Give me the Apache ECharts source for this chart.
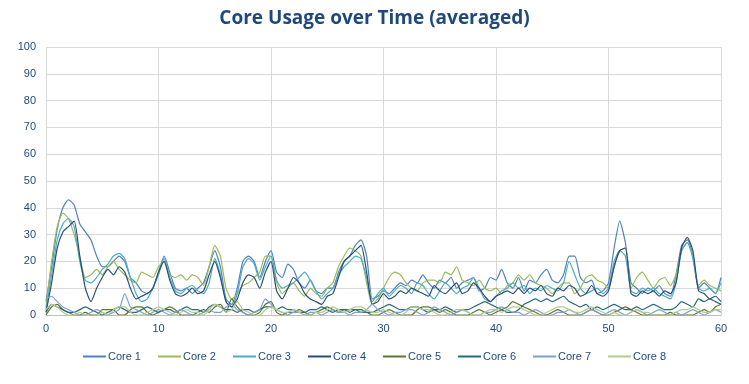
<!DOCTYPE html>
<html><head><meta charset="utf-8">
<script src="https://cdn.jsdelivr.net/npm/echarts@6/dist/echarts.min.js"></script>
<style>html,body{margin:0;padding:0;background:#fff}#c{width:749px;height:384px}</style>
</head><body><div id="c"></div>
<script>
var seriesNames = ['Core 1','Core 2','Core 3','Core 4','Core 5','Core 6','Core 7','Core 8'];
var xTicks = [0,10,20,30,40,50,60];
var yTicks = [0,10,20,30,40,50,60,70,80,90,100];
var step = 0.5;
var core1 = [5,18,32,40,43,41,34,31,28,22,18,18,20,22,20,14,12,9,8,10,16,22,16,10,9,10,8,10,12,18,24,18,6,4,10,20,22,20,14,20,24,16,14,19,17,12,10,13,9,8,10,10,16,20,22,26,28,22,6,7,9,8,10,12,11,13,12,15,12,10,13,12,14,10,12,13,14,9,10,14,13,17,12,10,14,9,13,12,15,17,13,12,15,22,22,14,12,13,8,9,12,25,35,27,12,10,8,10,9,11,8,7,15,26,28,22,10,12,10,8,14];
var core2 = [3,20,33,38,36,30,22,14,15,17,15,18,20,17,15,13,12,16,15,14,18,20,15,14,15,13,15,14,11,18,26,22,10,6,8,11,12,14,16,22,22,12,8,10,12,9,7,10,8,7,10,12,18,22,25,24,22,12,4,6,10,14,16,15,12,10,9,12,13,13,12,16,15,18,13,12,11,13,10,9,10,8,11,12,15,13,15,12,11,10,8,10,12,12,8,10,14,15,13,12,10,18,24,25,10,14,16,13,10,13,14,11,15,24,27,22,11,13,11,10,9];
var core3 = [2,15,28,34,36,33,20,13,12,14,17,19,22,23,21,14,8,5,6,10,15,21,14,9,8,10,11,9,8,12,21,15,5,3,8,18,21,19,13,18,22,13,10,11,12,14,16,13,9,6,8,10,15,18,20,22,21,14,5,8,10,7,9,11,10,8,12,11,8,6,9,12,10,8,10,11,14,10,6,5,7,9,10,12,10,11,8,10,9,11,10,9,12,20,15,10,8,9,10,8,10,20,24,22,9,8,10,9,10,8,7,6,12,24,27,21,10,9,10,8,12];
var core4 = [1,12,25,31,33,35,22,10,5,10,14,17,15,18,16,10,6,7,8,10,16,20,13,8,7,8,10,8,9,15,20,14,5,3,6,12,15,14,10,16,20,9,6,10,14,12,8,6,5,4,7,8,14,20,22,24,26,16,4,5,8,6,7,9,8,10,9,8,7,11,9,8,10,12,8,9,12,10,7,5,7,8,9,8,10,8,10,9,11,8,7,10,9,11,10,7,8,11,8,7,9,18,24,25,8,7,9,8,9,7,9,8,12,25,29,24,9,8,6,7,5];
var core5 = [0,3,4,2,1,0,0,1,0,0,2,2,2,0,0,2,3,3,1,0,1,2,3,2,0,0,0,1,2,1,3,4,1,6,3,1,0,0,1,4,5,1,0,1,1,2,1,0,1,2,3,2,1,2,2,2,1,1,0,0,1,2,1,0,0,0,2,3,3,2,1,2,1,0,0,0,1,2,1,0,1,2,3,5,4,3,2,1,0,0,1,2,1,0,0,0,1,2,1,0,0,1,2,3,2,1,0,0,0,0,0,1,0,0,0,0,1,2,1,3,4];
var core6 = [1,4,3,2,1,1,2,3,2,1,0,1,2,3,2,1,1,2,3,2,1,2,2,1,2,3,2,2,1,3,4,3,2,2,1,2,2,1,2,3,3,2,3,2,2,1,1,2,2,3,2,1,2,2,1,2,2,1,1,2,3,4,3,2,2,3,3,2,1,2,2,3,2,1,2,2,3,4,5,4,3,2,1,1,2,4,5,6,5,6,5,6,7,5,4,3,4,2,3,2,3,4,3,2,2,3,2,3,4,3,2,2,3,5,4,3,6,5,6,5,4];
var core7 = [6,7,5,3,2,1,0,0,1,2,1,0,1,2,8,3,2,1,0,1,2,1,0,1,2,1,0,0,1,2,1,1,3,4,2,1,0,1,2,6,4,2,1,0,1,1,0,1,1,0,1,2,1,1,0,1,1,2,4,2,1,0,1,1,2,2,1,0,1,3,2,1,0,1,2,1,0,0,1,1,2,3,2,1,1,0,1,2,1,0,0,1,1,2,1,0,1,2,1,0,1,2,1,0,1,2,1,0,1,2,1,0,1,0,1,2,1,0,1,2,1];
var core8 = [2,4,3,1,0,0,1,0,0,0,1,0,2,3,3,1,0,0,1,2,3,2,1,0,1,2,1,1,0,2,4,3,1,2,5,2,1,0,0,2,3,2,1,1,2,1,0,0,1,1,2,3,2,1,2,3,3,2,1,1,2,1,0,0,1,3,3,2,2,1,0,0,1,2,2,1,0,0,1,2,2,1,2,3,3,2,1,0,0,1,2,3,3,2,1,1,2,3,2,1,0,1,0,0,1,2,1,1,0,0,0,0,1,2,2,3,2,1,1,2,2];
var colors = ['#4F81BD','#9BBB59','#4BACC6','#2C4D75','#5F7530','#276A7C','#7F9FD0','#B4CC8A'];
var all = [core1,core2,core3,core4,core5,core6,core7,core8];

var series = seriesNames.map(function(n,i){
  return {name:n,type:'line',symbol:'none',smooth:0.2,
    lineStyle:{width:1.2,color:colors[i]},itemStyle:{color:colors[i]},
    data: all[i].map(function(v,k){return [k*step,v];})};
});
var chart = echarts.init(document.getElementById('c'),null,{renderer:'canvas'});
chart.setOption({
  animation:false,
  title:{text:'Core Usage over Time (averaged)',left:'center',top:4,
    textStyle:{fontFamily:'Open Sans',fontWeight:'bold',fontSize:19,color:'#1F497D'}},
  grid:{left:46,right:28,top:47,bottom:69},
  xAxis:{type:'value',min:0,max:60,interval:10,
    axisLine:{lineStyle:{color:'#BFBFBF'}},axisTick:{show:false},
    splitLine:{show:true,lineStyle:{color:'#D9D9D9'}},
    axisLabel:{color:'#1F497D',fontFamily:'Liberation Sans',fontSize:11,margin:8,
      customValues:xTicks}},
  yAxis:{type:'value',min:0,max:100,interval:10,
    axisLine:{show:false},axisTick:{show:false},
    splitLine:{lineStyle:{color:'#D9D9D9'}},
    axisLabel:{color:'#1F497D',fontFamily:'Liberation Sans',fontSize:11,margin:10}},
  legend:{bottom:17,left:'center',itemWidth:23,itemHeight:2,itemGap:17,
    icon:'rect',
    textStyle:{color:'#1F497D',fontFamily:'Liberation Sans',fontSize:11,padding:[0,0,0,-3]},
    data:seriesNames},
  series:series
});
</script></body></html>
